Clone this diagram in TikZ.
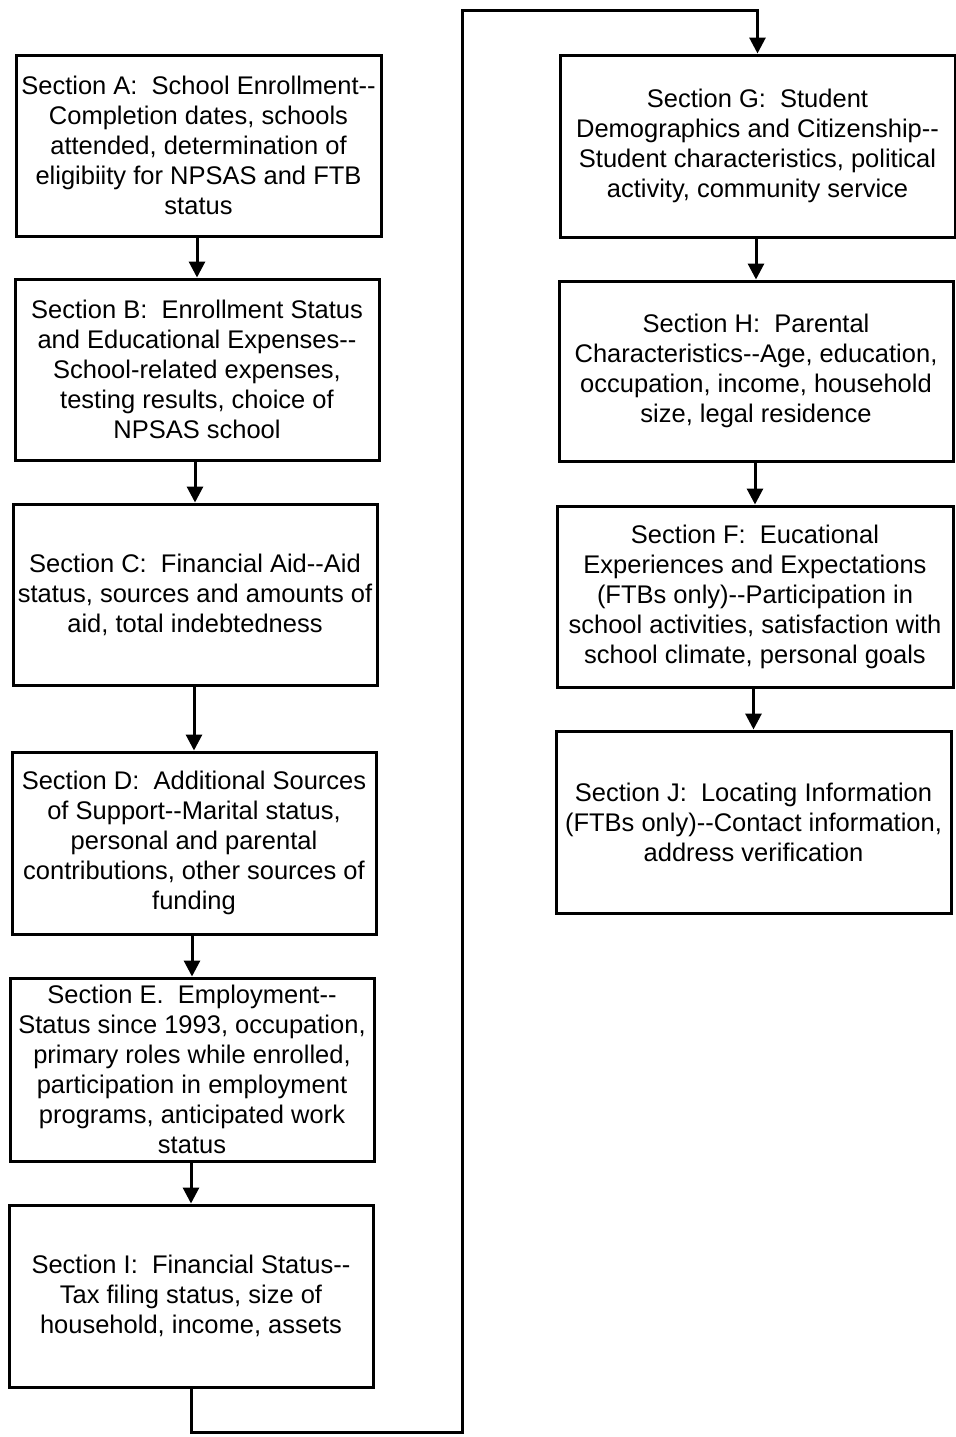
\documentclass[tikz,border=0pt]{standalone}
\usepackage{fontspec}
\setmainfont{Liberation Sans}
\usetikzlibrary{arrows.meta}
\begin{document}
\begin{tikzpicture}[x=0.5pt,y=-0.5pt,
  sbox/.style={draw, line width=1.5pt, inner sep=0pt, align=center,
    font=\fontsize{12.75pt}{15pt}\selectfont},
  flow/.style={line width=1.5pt, -{Triangle[length=8pt,width=8pt]}}]
\useasboundingbox (0,0) rectangle (955,1437);

% left column
\node[sbox, minimum width=182.5pt, minimum height=90.5pt] (A) at (198.5,145.5)
  {Section A:~~School Enrollment-{}-\\Completion dates, schools\\attended, determination of\\eligibiity for NPSAS and FTB\\status};
\node[sbox, minimum width=182pt, minimum height=90.5pt] (B) at (197,369.5)
  {Section B:~~Enrollment Status\\and Educational Expenses-{}-\\School-related expenses,\\testing results, choice of\\NPSAS school};
\node[sbox, minimum width=182pt, minimum height=90.5pt] (C) at (195,594.5)
  {Section C:~~Financial Aid-{}-Aid\\status, sources and amounts of\\aid, total indebtedness};
\node[sbox, minimum width=182pt, minimum height=91pt] (D) at (194,843)
  {Section D:~~Additional Sources\\of Support-{}-Marital status,\\personal and parental\\contributions, other sources of\\funding};
\node[sbox, minimum width=182pt, minimum height=91.5pt] (E) at (192,1069.5)
  {Section E.~~Employment-{}-\\Status since 1993, occupation,\\primary roles while enrolled,\\participation in employment\\programs, anticipated work\\status};
\node[sbox, minimum width=182pt, minimum height=91pt] (I) at (191,1296)
  {Section I:~~Financial Status-{}-\\Tax filing status, size of\\household, income, assets};

% right column
\node[sbox, minimum width=197.5pt, minimum height=91pt] (G) at (757.5,146)
  {Section G:~~Student\\Demographics and Citizenship-{}-\\Student characteristics, political\\activity, community service};
\node[sbox, minimum width=197pt, minimum height=90pt] (H) at (756,371)
  {Section H:~~Parental\\Characteristics-{}-Age, education,\\occupation, income, household\\size, legal residence};
\node[sbox, minimum width=198pt, minimum height=90.5pt] (F) at (755,596.5)
  {Section F:~~Eucational\\Experiences and Expectations\\(FTBs only)-{}-Participation in\\school activities, satisfaction with\\school climate, personal goals};
\node[sbox, minimum width=197.5pt, minimum height=91pt] (J) at (753.5,822)
  {Section J:~~Locating Information\\(FTBs only)-{}-Contact information,\\address verification};

% connectors, kept vertical
\draw[flow] (B.north |- A.south) -- (B.north);
\draw[flow] (C.north |- B.south) -- (C.north);
\draw[flow] (D.north |- C.south) -- (D.north);
\draw[flow] (E.north |- D.south) -- (E.north);
\draw[flow] (I.north |- E.south) -- (I.north);
\draw[flow] (H.north |- G.south) -- (H.north);
\draw[flow] (F.north |- H.south) -- (F.north);
\draw[flow] (J.north |- F.south) -- (J.north);

% return path from the bottom of the left column to the top of the right one
\coordinate (lowturn) at (462,1432);
\coordinate (highturn) at (462,10);
\draw[flow] (I.south) |- (lowturn) -- (highturn) -| (G.north);
\end{tikzpicture}
\end{document}
